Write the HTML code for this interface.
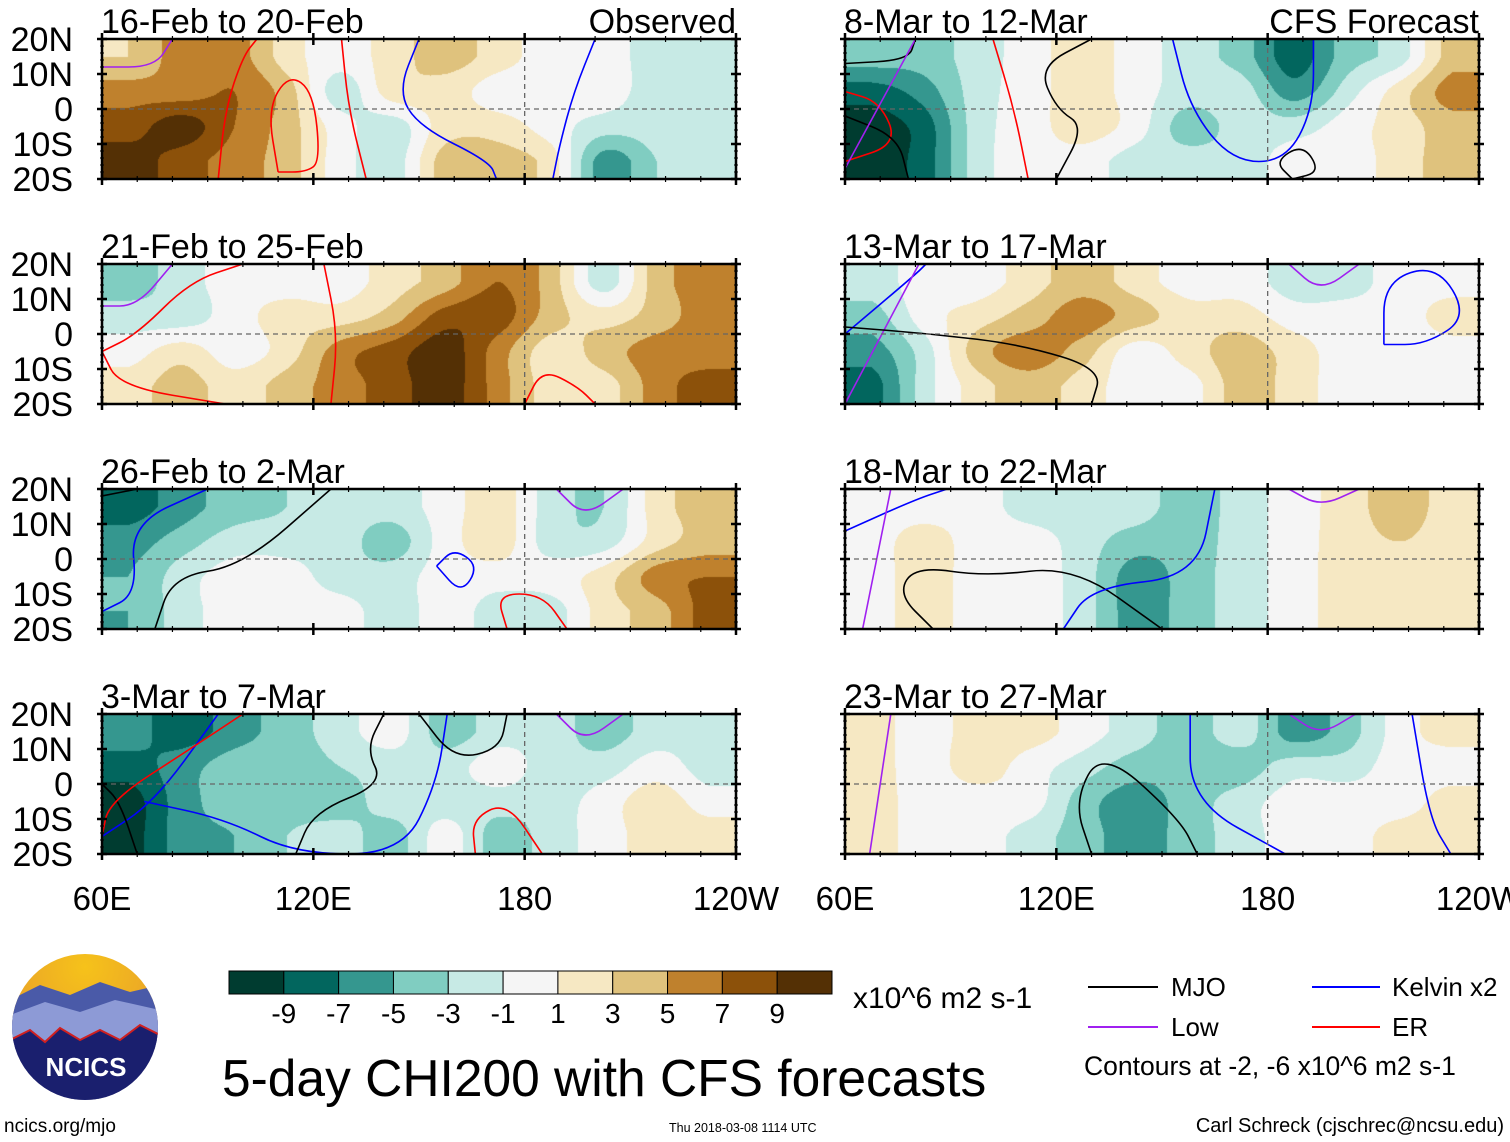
<!DOCTYPE html>
<html><head><meta charset="utf-8"><style>
body{margin:0;background:#fff;width:1510px;height:1142px;overflow:hidden;font-family:"Liberation Sans",sans-serif}
svg,canvas{position:absolute;left:0;top:0}
</style></head><body>
<canvas id="heat" width="1510" height="1142"></canvas>
<svg id="chart" width="1510" height="1142" viewBox="0 0 1510 1142" xmlns="http://www.w3.org/2000/svg">
<defs>
<radialGradient id="sky" cx="0.5" cy="0.1" r="0.6"><stop offset="0" stop-color="#f6c21a"/><stop offset="1" stop-color="#e8a02a"/></radialGradient>
<clipPath id="logoclip"><circle cx="85" cy="1027" r="73"/></clipPath>
</defs>
<g id="panels"></g>
<g id="footer">
  <g clip-path="url(#logoclip)">
    <rect x="10" y="952" width="150" height="150" fill="url(#sky)"/>
    <path d="M10 1000 L40 985 L70 995 L100 982 L130 992 L160 985 L160 1102 L10 1102Z" fill="#4a5aa8"/>
    <path d="M10 1015 L45 1002 L80 1012 L115 1000 L160 1010 L160 1102 L10 1102Z" fill="#8d9ad6"/>
    <path d="M10 1040 L30 1030 L45 1042 L60 1028 L80 1040 L100 1030 L120 1040 L140 1025 L160 1035 L160 1102 L10 1102Z" fill="#1a1f6e"/>
    <path d="M10 1040 L30 1030 L45 1042 L60 1028 L80 1040 L100 1030 L120 1040 L140 1025 L160 1035" fill="none" stroke="#d02020" stroke-width="2"/>
  </g>
  <text x="86" y="1076" font-size="26" font-weight="bold" fill="#fff" text-anchor="middle">NCICS</text>
  <text x="4" y="1132" font-size="19">ncics.org/mjo</text>
  <g id="cbar"></g>
  <text x="853" y="1008" font-size="30">x10^6 m2 s-1</text>
  <text x="222" y="1096" font-size="51.5">5-day CHI200 with CFS forecasts</text>
  <text x="669" y="1132" font-size="12.5">Thu 2018-03-08 1114 UTC</text>
  <text x="1504" y="1132" font-size="20" text-anchor="end">Carl Schreck (cjschrec@ncsu.edu)</text>
  <g><line x1="1088" y1="987" x2="1158" y2="987" stroke="#000" stroke-width="2"/><text x="1171" y="996" font-size="26">MJO</text></g>
  <g><line x1="1312" y1="987" x2="1380" y2="987" stroke="#0000ff" stroke-width="2"/><text x="1392" y="996" font-size="26">Kelvin x2</text></g>
  <g><line x1="1088" y1="1027" x2="1158" y2="1027" stroke="#a020f0" stroke-width="2"/><text x="1171" y="1036" font-size="26">Low</text></g>
  <g><line x1="1312" y1="1027" x2="1380" y2="1027" stroke="#ff0000" stroke-width="2"/><text x="1392" y="1036" font-size="26">ER</text></g>
  <text x="1084" y="1075" font-size="26.5">Contours at -2, -6 x10^6 m2 s-1</text>
</g>
</svg>
<script>
// Colour levels (CHI200 anomaly)
const levels = [-9,-7,-5,-3,-1,1,3,5,7,9];
const colors = ["#003c30","#02665e","#35978f","#80cdc1","#c7eae5","#f5f5f5","#f6e8c3","#dfc27d","#bf812d","#8c510a","#543005"];
const lons = [67.5,82.5,97.5,112.5,127.5,142.5,157.5,172.5,187.5,202.5,217.5,232.5];
const lats = [15,5,-5,-15];
const titles = ["16-Feb to 20-Feb","21-Feb to 25-Feb","26-Feb to 2-Mar","3-Mar to 7-Mar","8-Mar to 12-Mar","13-Mar to 17-Mar","18-Mar to 22-Mar","23-Mar to 27-Mar"];
const xTickLabels = ["60E","120E","180","120W"];
const xTickLons = [60,120,180,240];
const yTickLabels = ["20N","10N","0","10S","20S"];
const yTickLats = [20,10,0,-10,-20];
const p1 = [[3,6,6,2,0,2,4,2,0,0,-2,-2],[6,6,7,4,-2,2,2,0,0,0,-2,-2],[8,10,7,4,0,-2,2,2,0,-2,-2,-2],[10,8,6,4,0,-2,4,4,2,-6,-3,-2]];
const p2 = [[-4,-2,0,0,0,2,4,7,4,-2,4,6],[-2,-2,0,2,2,4,8,8,4,2,4,6],[0,2,0,2,6,8,10,6,2,4,6,6],[2,4,2,4,6,8,10,6,2,2,6,8]];
const p3 = [[-8,-6,-4,-3,-2,-2,0,2,-2,-3,2,4],[-6,-4,-2,-2,-2,-4,0,2,-2,-2,2,4],[-5,-2,0,0,-2,-2,0,0,0,2,6,7],[-5,-2,0,0,0,-2,0,-2,-2,2,4,8]];
const p4 = [[-6,-8,-6,-4,-2,0,-4,-2,-2,-4,-2,-2],[-8,-6,-4,-4,-3,-2,-2,0,-2,-2,0,-2],[-10,-6,-4,-4,-4,-2,-2,-2,-2,0,2,0],[-10,-6,-5,-3,-2,-4,0,-4,-2,0,2,2]];
const p5 = [[-4,-4,-2,0,2,0,-2,-4,-8,-4,-2,4],[-8,-6,-2,0,2,0,-2,-2,-6,-2,2,6],[-10,-8,-2,0,2,0,-4,-2,-2,0,2,4],[-10,-8,-2,0,0,-2,-2,-2,0,0,2,4]];
const p6 = [[-2,0,0,2,4,2,0,0,-2,-2,0,0],[-4,0,2,4,6,4,2,2,0,0,0,2],[-6,-2,4,6,4,0,2,4,2,0,0,0],[-8,-2,2,4,2,0,0,4,2,0,0,0]];
const p7 = [[0,0,0,-2,-2,-2,-4,-2,0,2,4,2],[0,2,0,0,-2,-4,-4,-2,0,2,3,2],[0,2,0,0,-2,-6,-4,-2,0,2,2,2],[0,2,0,0,-2,-6,-4,-2,0,2,2,2]];
const p8 = [[2,0,2,2,0,-2,-4,-2,-6,-4,0,2],[2,0,2,0,-2,-4,-4,-4,-2,-2,0,0],[2,0,0,0,-4,-6,-4,-2,0,0,0,2],[2,0,0,-2,-4,-6,-4,-2,0,0,2,2]];
const fields = [p1,p2,p3,p4,p5,p6,p7,p8];
// contour lines: [panelIndex, colour, [[lon,lat],...]]
const contours = [
 [0,"#f00",[[93,-20],[95,0],[100,15],[104,20]]],
 [0,"#f00",[[110,-18],[107,0],[113,10],[120,5],[122,-15],[118,-18],[110,-18]]],
 [0,"#f00",[[128,20],[130,0],[135,-20]]],
 [0,"#00f",[[150,20],[144,5],[150,-5],[170,-15],[172,-20]]],
 [0,"#00f",[[200,20],[194,5],[190,-10],[188,-20]]],
 [0,"#a020f0",[[60,12],[75,12],[80,20]]],
 [1,"#f00",[[60,-5],[70,0],[85,15],[100,20]]],
 [1,"#f00",[[60,-5],[65,-15],[95,-20]]],
 [1,"#f00",[[123,20],[127,0],[125,-20]]],
 [1,"#f00",[[180,-20],[185,-10],[195,-15],[200,-20]]],
 [1,"#a020f0",[[60,8],[70,8],[80,20]]],
 [2,"#000",[[60,18],[70,20]]],
 [2,"#000",[[75,-20],[80,-5],[100,-2],[125,20]]],
 [2,"#00f",[[60,-15],[70,-10],[68,10],[90,20]]],
 [2,"#00f",[[155,-2],[162,-10],[167,-2],[160,3],[155,-2]]],
 [2,"#f00",[[175,-20],[172,-10],[185,-10],[192,-20]]],
 [2,"#a020f0",[[189,20],[197,12],[208,20]]],
 [3,"#00f",[[60,-15],[75,-5],[93,20]]],
 [3,"#00f",[[72,-5],[95,-10],[115,-20],[145,-20],[155,0],[158,20]]],
 [3,"#000",[[70,-20],[65,-5],[60,0]]],
 [3,"#000",[[115,-20],[120,-8],[140,0],[135,10],[140,20]]],
 [3,"#000",[[150,20],[160,7],[173,10],[175,20]]],
 [3,"#f00",[[60,-15],[62,-5],[85,10],[100,20]]],
 [3,"#f00",[[166,-20],[165,-10],[175,-5],[185,-20]]],
 [3,"#a020f0",[[189,20],[197,12],[208,20]]],
 [4,"#f00",[[60,-15],[75,-10],[70,2],[60,5]]],
 [4,"#000",[[60,-2],[75,-8],[78,-20]]],
 [4,"#000",[[60,13],[78,14],[80,20]]],
 [4,"#a020f0",[[60,-17],[80,20]]],
 [4,"#f00",[[102,20],[108,0],[112,-20]]],
 [4,"#000",[[130,20],[115,12],[120,0],[128,-5],[120,-20]]],
 [4,"#00f",[[153,20],[158,0],[170,-15],[185,-15],[193,0],[193,20]]],
 [4,"#000",[[187,-20],[182,-15],[190,-10],[195,-18],[187,-20]]],
 [5,"#00f",[[60,0],[80,17],[83,20]]],
 [5,"#a020f0",[[60,-20],[81,20]]],
 [5,"#000",[[60,2],[85,0],[110,-3],[133,-10],[130,-20]]],
 [5,"#00f",[[213,-3],[225,-3],[237,5],[228,20],[213,15],[213,-3]]],
 [5,"#a020f0",[[186,20],[195,12],[206,20]]],
 [6,"#00f",[[60,8],[80,17],[89,20]]],
 [6,"#a020f0",[[65,-20],[73,20]]],
 [6,"#000",[[85,-20],[75,-10],[80,-2],[100,-5],[125,-2],[150,-20]]],
 [6,"#00f",[[122,-20],[130,-8],[160,-5],[165,20]]],
 [6,"#a020f0",[[186,20],[195,15],[206,20]]],
 [7,"#a020f0",[[67,-20],[73,20]]],
 [7,"#000",[[130,-20],[125,-5],[133,10],[155,-10],[160,-20]]],
 [7,"#00f",[[158,20],[158,-5],[185,-20]]],
 [7,"#00f",[[221,20],[226,-10],[232,-20]]],
 [7,"#a020f0",[[186,20],[195,14],[205,20]]]
];

const svg = document.getElementById('panels');
const ctx = document.getElementById('heat').getContext('2d');
const NS = "http://www.w3.org/2000/svg";
const PW = 634, PH = 140;
const colX = [102, 845];
const rowY = [39, 264, 489, 714];
function colorIdx(v){let i=0;while(i<levels.length && v>levels[i]) i++;return i;}
const rgb = colors.map(c => [parseInt(c.slice(1,3),16),parseInt(c.slice(3,5),16),parseInt(c.slice(5,7),16)]);
function mk(tag, attrs, parent){const e=document.createElementNS(NS,tag);for(const k in attrs)e.setAttribute(k,attrs[k]);parent.appendChild(e);return e;}
function cr(p0,p1,p2,p3,t){return 0.5*((2*p1)+(-p0+p2)*t+(2*p0-5*p1+4*p2-p3)*t*t+(-p0+3*p1-3*p2+p3)*t*t*t);}
function row(field, j, fx){
  const n = lons.length, i = Math.min(Math.floor(fx), n-2), t = fx-i;
  const g = k => field[j][Math.max(0, Math.min(n-1, k))];
  return cr(g(i-1), g(i), g(i+1), g(i+2), t);
}
function sample(field, lon, lat){
  let fx = (lon-lons[0])/15, fy = (lats[0]-lat)/10;
  fx = Math.max(0, Math.min(lons.length-1, fx)); fy = Math.max(0, Math.min(lats.length-1, fy));
  const m = lats.length, j = Math.min(Math.floor(fy), m-2), t = fy-j;
  const r = k => row(field, Math.max(0, Math.min(m-1, k)), fx);
  return cr(r(j-1), r(j), r(j+1), r(j+2), t);
}

fields.forEach((field, pi) => {
  const x0 = colX[pi<4?0:1], y0 = rowY[pi%4];
  const xs = lon => x0 + (lon-60)/180*PW;
  const ys = lat => y0 + (20-lat)/40*PH;
  const img = ctx.createImageData(PW, PH);
  for (let py=0; py<PH; py++) for (let px=0; px<PW; px++){
    const lon = 60 + (px+0.5)/PW*180, lat = 20 - (py+0.5)/PH*40;
    const c = rgb[colorIdx(sample(field, lon, lat))];
    const o = (py*PW+px)*4;
    img.data[o]=c[0]; img.data[o+1]=c[1]; img.data[o+2]=c[2]; img.data[o+3]=255;
  }
  ctx.putImageData(img, x0, y0);
  const g = mk('g', {}, svg);
  
  
  const clipId = 'clip'+pi;
  const cp = mk('clipPath', {id: clipId}, g);
  mk('rect', {x:x0, y:y0, width:PW, height:PH}, cp);
  const fg = mk('g', {'clip-path':'url(#'+clipId+')'}, g);
  contours.filter(c => c[0]===pi).forEach(c => {
    const pts = c[2].map(p => [xs(p[0]), ys(p[1])]);
    let d = 'M'+pts[0][0]+' '+pts[0][1];
    for (let i=1;i<pts.length;i++){
      const p0=pts[i-1], p1=pts[i];
      const mx=(p0[0]+p1[0])/2, my=(p0[1]+p1[1])/2;
      d += ' Q'+p0[0]+' '+p0[1]+' '+mx+' '+my;
    }
    d += ' L'+pts[pts.length-1][0]+' '+pts[pts.length-1][1];
    const path = mk('path', {d:d, fill:'none', stroke:c[1], 'stroke-width':1.6}, fg);
    
    
  });
  mk('line', {x1:x0, x2:x0+PW, y1:ys(0), y2:ys(0), stroke:'#666', 'stroke-width':1.3, 'stroke-dasharray':'5 4'}, g);
  mk('line', {x1:xs(180), x2:xs(180), y1:y0, y2:y0+PH, stroke:'#666', 'stroke-width':1.3, 'stroke-dasharray':'5 4'}, g);
  const fr = mk('rect', {x:x0, y:y0, width:PW, height:PH, fill:'none', stroke:'#000', 'stroke-width':2.5}, g);
  
  
  for (let lon=60; lon<=240; lon+=10){
    const major = (lon-60)%60===0;
    const L = major?6:3;
    mk('line',{x1:xs(lon),x2:xs(lon),y1:y0-L,y2:y0+L,stroke:'#000','stroke-width':major?2.5:1.2},g);
    mk('line',{x1:xs(lon),x2:xs(lon),y1:y0+PH-L,y2:y0+PH+L,stroke:'#000','stroke-width':major?2.5:1.2},g);
  }
  for (let lat=-20; lat<=20; lat+=2){
    const major = lat%10===0;
    const L = major?5:2;
    mk('line',{x1:x0-L,x2:x0+L,y1:ys(lat),y2:ys(lat),stroke:'#000','stroke-width':major?2.5:1},g);
    mk('line',{x1:x0+PW-L,x2:x0+PW+L,y1:ys(lat),y2:ys(lat),stroke:'#000','stroke-width':major?2.5:1},g);
  }
  const t = mk('text', {x:x0-1, y:y0-6, 'font-size':34}, g);
  t.textContent = titles[pi];
  
  
  if (pi===0 || pi===4){
    const s = mk('text', {x:x0+PW, y:y0-6, 'font-size':34, 'text-anchor':'end'}, g);
    s.textContent = pi===0 ? 'Observed' : 'CFS Forecast';
    
    
  }
  if (pi<4){
    yTickLabels.forEach((lab, k) => {
      const yl = mk('text', {x:73, y:ys(yTickLats[k])+12, 'font-size':34, 'text-anchor':'end'}, g);
      yl.textContent = lab;
      
      
    });
  }
  if (pi%4===3){
    xTickLabels.forEach((lab, k) => {
      const xl = mk('text', {x:xs(xTickLons[k]), y:910, 'font-size':33, 'text-anchor':'middle'}, g);
      xl.textContent = lab;
      
      
    });
  }
});

const cb = document.getElementById('cbar');
const bw = (832-229)/11;
colors.forEach((c,i) => {
  const r = mk('rect', {x:229+i*bw, y:971, width:bw, height:23, fill:c, stroke:'#000', 'stroke-width':1}, cb);
  
  
});
levels.forEach((v,i) => {
  const t = mk('text', {x:229+(i+1)*bw, y:1023, 'font-size':28, 'text-anchor':'middle'}, cb);
  t.textContent = v;
  
  
});
</script>
</body></html>
